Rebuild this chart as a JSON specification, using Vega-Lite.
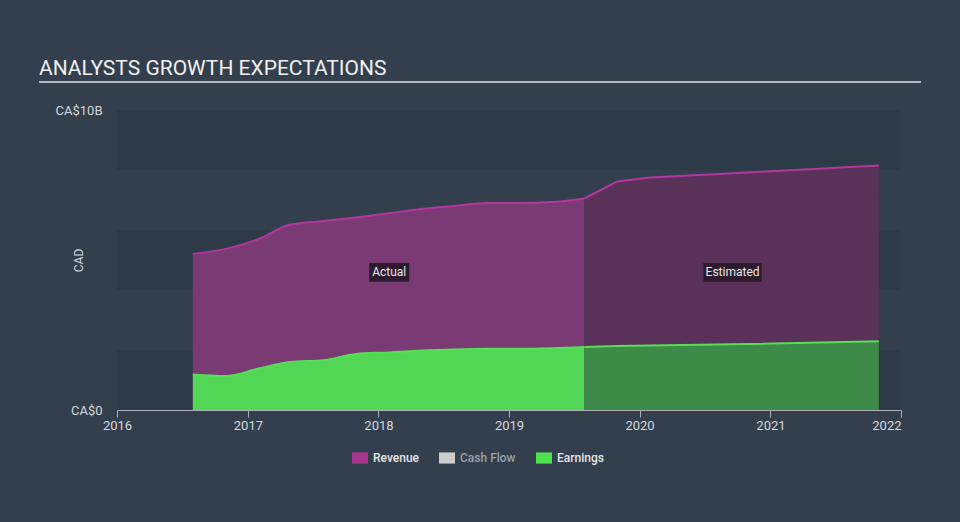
{
  "$schema": "https://vega.github.io/schema/vega-lite/v6.json",
  "width": 784,
  "height": 300,
  "autosize": "none",
  "padding": {"left": 117, "top": 110, "right": 59, "bottom": 112},
  "background": "#333f4d",
  "title": {"text": "ANALYSTS GROWTH EXPECTATIONS", "anchor": "start", "frame": "group", "dx": -78, "offset": -15, "baseline": "alphabetic", "font": "Roboto", "fontSize": 21, "fontWeight": "normal", "color": "#f0f0f0"},
  "config": {"view": {"stroke": null}, "font": "Roboto"},
  "datasets": {
    "series": [
      {"date": "2016-07-31", "metric": "Revenue", "value": 5.2},
      {"date": "2016-10-31", "metric": "Revenue", "value": 5.37},
      {"date": "2017-01-31", "metric": "Revenue", "value": 5.7},
      {"date": "2017-04-30", "metric": "Revenue", "value": 6.18},
      {"date": "2017-07-31", "metric": "Revenue", "value": 6.3},
      {"date": "2017-10-31", "metric": "Revenue", "value": 6.42},
      {"date": "2018-01-31", "metric": "Revenue", "value": 6.56},
      {"date": "2018-04-30", "metric": "Revenue", "value": 6.7},
      {"date": "2018-07-31", "metric": "Revenue", "value": 6.8},
      {"date": "2018-10-31", "metric": "Revenue", "value": 6.9},
      {"date": "2019-01-31", "metric": "Revenue", "value": 6.9},
      {"date": "2019-04-30", "metric": "Revenue", "value": 6.93},
      {"date": "2019-07-31", "metric": "Revenue", "value": 7.05},
      {"date": "2019-10-31", "metric": "Revenue", "value": 7.62},
      {"date": "2020-01-31", "metric": "Revenue", "value": 7.75},
      {"date": "2020-10-31", "metric": "Revenue", "value": 7.92},
      {"date": "2021-10-31", "metric": "Revenue", "value": 8.15},
      {"date": "2016-07-31", "metric": "Earnings", "value": 1.18},
      {"date": "2016-10-31", "metric": "Earnings", "value": 1.13},
      {"date": "2017-01-31", "metric": "Earnings", "value": 1.38},
      {"date": "2017-04-30", "metric": "Earnings", "value": 1.6},
      {"date": "2017-07-31", "metric": "Earnings", "value": 1.66},
      {"date": "2017-10-31", "metric": "Earnings", "value": 1.87},
      {"date": "2018-01-31", "metric": "Earnings", "value": 1.92},
      {"date": "2018-04-30", "metric": "Earnings", "value": 1.98},
      {"date": "2018-07-31", "metric": "Earnings", "value": 2.02},
      {"date": "2018-10-31", "metric": "Earnings", "value": 2.04},
      {"date": "2019-01-31", "metric": "Earnings", "value": 2.04},
      {"date": "2019-04-30", "metric": "Earnings", "value": 2.06},
      {"date": "2019-07-31", "metric": "Earnings", "value": 2.1},
      {"date": "2019-10-31", "metric": "Earnings", "value": 2.13},
      {"date": "2020-10-31", "metric": "Earnings", "value": 2.2},
      {"date": "2021-10-31", "metric": "Earnings", "value": 2.29}
    ],
    "bands": [{"lo": 0, "hi": 2}, {"lo": 4, "hi": 6}, {"lo": 8, "hi": 10}],
    "labels": [
      {"label": "Actual", "date": "2018-01-31", "value": 4.59},
      {"label": "Estimated", "date": "2020-09-17", "value": 4.59}
    ]
  },
  "layer": [
    {
      "data": {"name": "bands"},
      "mark": {"type": "rect", "color": "#2d3a48"},
      "encoding": {
        "y": {"field": "lo", "type": "quantitative", "scale": {"domain": [0, 10], "nice": false},
          "axis": {"values": [0, 10], "labelExpr": "datum.value === 0 ? 'CA$0' : 'CA$10B'", "domain": false, "ticks": false, "grid": false, "labelPadding": 15, "labelFontSize": 13, "labelColor": "#d4d8dc", "title": "CAD", "titleFontSize": 12, "titleFontWeight": "normal", "titleColor": "#d4d8dc", "titleAngle": -90, "titleX": -39, "titleY": 150, "titleAlign": "center", "titleBaseline": "middle"}},
        "y2": {"field": "hi"}
      }
    },
    {
      "data": {"name": "series"},
      "transform": [{"filter": "datum.metric === 'Revenue' && time(datum.date) <= utc(2019, 6, 31)"}],
      "mark": {"type": "area", "interpolate": "monotone", "color": "#7a3a74"},
      "encoding": {
        "x": {"field": "date", "type": "temporal",
          "scale": {"type": "utc", "domain": [{"year": 2016, "month": 1, "date": 1, "utc": true}, {"year": 2022, "month": 1, "date": 1, "utc": true}]},
          "axis": {"tickCount": {"interval": "year", "step": 1}, "format": "%Y", "grid": false, "title": null, "domainColor": "#a9b0b8", "tickColor": "#a9b0b8", "tickSize": 7, "labelFontSize": 13, "labelColor": "#d4d8dc", "labelPadding": 2, "labelFlush": false, "zindex": 1,
            "labelAlign": {"condition": {"test": "utcyear(datum.value) === 2022", "value": "right"}, "value": "center"}}},
        "y": {"field": "value", "type": "quantitative", "scale": {"domain": [0, 10], "nice": false}}
      }
    },
    {
      "data": {"name": "series"},
      "transform": [{"filter": "datum.metric === 'Revenue' && time(datum.date) >= utc(2019, 6, 31)"}],
      "mark": {"type": "area", "interpolate": "linear", "color": "#5a3159"},
      "encoding": {
        "x": {"field": "date", "type": "temporal"},
        "y": {"field": "value", "type": "quantitative"}
      }
    },
    {
      "data": {"name": "series"},
      "transform": [{"filter": "datum.metric === 'Revenue' && time(datum.date) <= utc(2019, 6, 31)"}],
      "mark": {"type": "line", "interpolate": "monotone", "color": "#b4379f", "strokeWidth": 2},
      "encoding": {
        "x": {"field": "date", "type": "temporal"},
        "y": {"field": "value", "type": "quantitative"}
      }
    },
    {
      "data": {"name": "series"},
      "transform": [{"filter": "datum.metric === 'Revenue' && time(datum.date) >= utc(2019, 6, 31)"}],
      "mark": {"type": "line", "interpolate": "linear", "color": "#b4379f", "strokeWidth": 2},
      "encoding": {
        "x": {"field": "date", "type": "temporal"},
        "y": {"field": "value", "type": "quantitative"}
      }
    },
    {
      "data": {"name": "series"},
      "transform": [{"filter": "datum.metric === 'Earnings' && time(datum.date) <= utc(2019, 6, 31)"}],
      "mark": {"type": "area", "interpolate": "monotone", "color": "#52d656"},
      "encoding": {
        "x": {"field": "date", "type": "temporal"},
        "y": {"field": "value", "type": "quantitative"}
      }
    },
    {
      "data": {"name": "series"},
      "transform": [{"filter": "datum.metric === 'Earnings' && time(datum.date) >= utc(2019, 6, 31)"}],
      "mark": {"type": "area", "interpolate": "linear", "color": "#3e8a48"},
      "encoding": {
        "x": {"field": "date", "type": "temporal"},
        "y": {"field": "value", "type": "quantitative"}
      }
    },
    {
      "data": {"name": "series"},
      "transform": [{"filter": "datum.metric === 'Earnings' && time(datum.date) <= utc(2019, 6, 31)"}],
      "mark": {"type": "line", "interpolate": "monotone", "color": "#55e055", "strokeWidth": 2},
      "encoding": {
        "x": {"field": "date", "type": "temporal"},
        "y": {"field": "value", "type": "quantitative"}
      }
    },
    {
      "data": {"name": "series"},
      "transform": [{"filter": "datum.metric === 'Earnings' && time(datum.date) >= utc(2019, 6, 31)"}],
      "mark": {"type": "line", "interpolate": "linear", "color": "#55e055", "strokeWidth": 2},
      "encoding": {
        "x": {"field": "date", "type": "temporal"},
        "y": {"field": "value", "type": "quantitative"}
      }
    },
    {
      "data": {"name": "series"},
      "mark": {"type": "point", "filled": true, "opacity": 0},
      "encoding": {
        "x": {"field": "date", "type": "temporal"},
        "y": {"field": "value", "type": "quantitative"},
        "color": {"field": "metric", "type": "nominal",
          "scale": {"domain": ["Revenue", "Cash Flow", "Earnings"], "range": ["#a8358f", "#cccccc", "#4fe04f"]},
          "legend": {"orient": "none", "legendX": 235, "legendY": 340, "direction": "horizontal", "title": null,
            "symbolType": "M-1,-0.7H1V0.7H-1Z", "symbolSize": 256, "symbolOpacity": 1, "symbolStrokeWidth": 0,
            "labelFontSize": 12, "labelFont": "Roboto", "labelFontWeight": 500, "labelOffset": 5, "columnPadding": 20, "padding": 0,
            "encode": {"labels": {"update": {"fill": {"signal": "datum.label === 'Cash Flow' ? '#9aa1a9' : '#e6e6e6'"}}}}}}
      }
    },
    {
      "data": {"name": "labels"},
      "mark": {"type": "point", "filled": true, "opacity": 1, "color": "#2c1b2d"},
      "encoding": {
        "x": {"field": "date", "type": "temporal"},
        "y": {"field": "value", "type": "quantitative"},
        "shape": {"field": "label", "type": "nominal", "legend": null,
          "scale": {"domain": ["Actual", "Estimated"], "range": ["M-1,-0.467H1V0.467H-1Z", "M-1,-0.32H1V0.32H-1Z"]}},
        "size": {"field": "label", "type": "ordinal", "legend": null,
          "scale": {"domain": ["Actual", "Estimated"], "range": [1600, 3411]}}
      }
    },
    {
      "data": {"name": "labels"},
      "mark": {"type": "text", "fontSize": 12, "color": "#e8e8e8", "align": "center", "baseline": "middle", "font": "Roboto"},
      "encoding": {
        "x": {"field": "date", "type": "temporal"},
        "y": {"field": "value", "type": "quantitative"},
        "text": {"field": "label"}
      }
    },
    {
      "data": {"values": [{}]},
      "mark": {"type": "rule", "color": "#b4b9be", "strokeWidth": 2},
      "encoding": {
        "x": {"datum": {"year": 2015, "month": 5, "date": 28, "utc": true}, "type": "temporal"},
        "x2": {"datum": {"year": 2022, "month": 2, "date": 26, "utc": true}},
        "y": {"datum": 10.933, "type": "quantitative"}
      }
    }
  ]
}
